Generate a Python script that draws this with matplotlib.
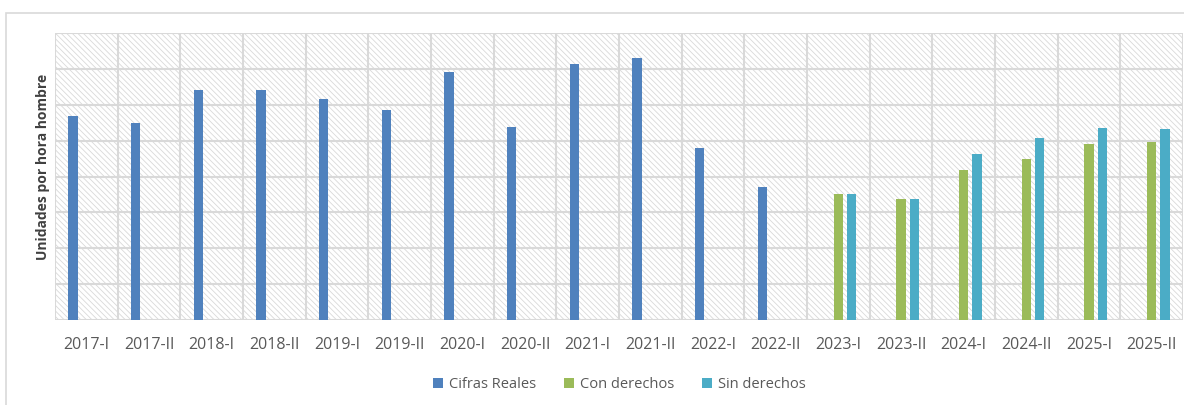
import numpy as np
import matplotlib.pyplot as plt
from matplotlib.patches import Rectangle

periods = ["2017-I", "2017-II", "2018-I", "2018-II", "2019-I", "2019-II",
           "2020-I", "2020-II", "2021-I", "2021-II", "2022-I", "2022-II",
           "2023-I", "2023-II", "2024-I", "2024-II", "2025-I", "2025-II"]
# values read off the gridlines (8 equal steps, no scale shown)
cifras_reales = [5.70, 5.48, 6.40, 6.40, 6.15, 5.84, 6.91, 5.37, 7.13, 7.30,
                 4.80, 3.71, np.nan, np.nan, np.nan, np.nan, np.nan, np.nan]
con_derechos = [np.nan] * 12 + [3.52, 3.37, 4.19, 4.50, 4.91, 4.96]
sin_derechos = [np.nan] * 12 + [3.52, 3.37, 4.63, 5.08, 5.36, 5.33]

plt.rcParams["font.family"] = ["Open Sans", "DejaVu Sans"]
plt.rcParams["hatch.linewidth"] = 0.6

fig = plt.figure(figsize=(11.84, 4.05), dpi=100)
# outer chart border
fig.add_artist(Rectangle((5.5 / 1184, -0.1), 1.2, (405 - 12.5) / 405 + 0.1,
                         transform=fig.transFigure, facecolor="none",
                         edgecolor="#d9d9d9", lw=1.2))
ax = fig.add_axes([55 / 1184, 85 / 405, 1128 / 1184, 287 / 405])

# hatched plot area
ax.add_patch(Rectangle((0, 0), 1, 1, transform=ax.transAxes, facecolor="white",
                       edgecolor="#d9d9d9", hatch="\\" * 6, lw=0, zorder=0))

x = np.arange(len(periods))
w = 0.15
step = 0.212
ax.bar(x - step, cifras_reales, w, color="#4f81bd", label="Cifras Reales", zorder=3)
ax.bar(x, con_derechos, w, color="#9bbb59", label="Con derechos", zorder=3)
ax.bar(x + step, sin_derechos, w, color="#4bacc6", label="Sin derechos", zorder=3)

ax.set_xlim(-0.5, len(periods) - 0.5)
ax.set_ylim(0, 8)
ax.set_yticks(np.arange(0, 9, 1))
ax.set_yticklabels([])
ax.set_xticks(x)
ax.set_xticklabels(periods, fontsize=11.5, color="#595959")
ax.set_xticks(np.arange(-0.5, len(periods), 1), minor=True)
ax.tick_params(axis="both", which="both", length=0)
ax.tick_params(axis="x", pad=12)
ax.grid(True, which="major", axis="y", color="#d9d9d9", lw=1.5, zorder=1)
ax.grid(True, which="minor", axis="x", color="#d9d9d9", lw=1.5, zorder=1)
for s in ax.spines.values():
    s.set_visible(False)
ax.set_facecolor("none")

ax.set_ylabel("Unidades por hora hombre", fontsize=10, fontweight="bold",
              color="#404040")
ax.yaxis.set_label_coords(-0.004, 0.533)

ax.legend(loc="center", bbox_to_anchor=(0.5, -0.225), ncol=3, frameon=False,
          fontsize=10.5, labelcolor="#595959", handlelength=0.7, handleheight=0.7,
          handletextpad=0.4, columnspacing=1.9)

fig.savefig("out.png", dpi=100)
